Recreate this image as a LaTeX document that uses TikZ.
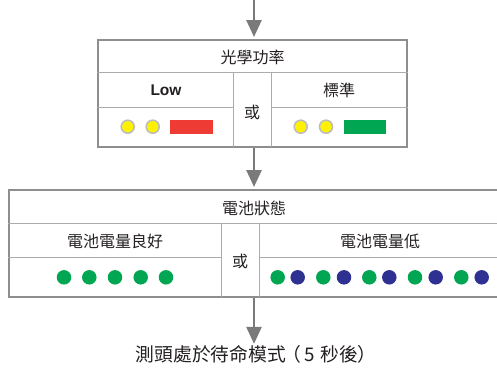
\documentclass[tikz,border=0pt]{standalone}
\usepackage{fontspec}
\setmainfont{Noto Sans CJK TC}
\newfontfamily\latinbold{Liberation Sans}
\usetikzlibrary{arrows.meta}
\definecolor{outerln}{HTML}{8E8E8E}
\definecolor{innerln}{HTML}{ABABAB}
\definecolor{arrowgray}{HTML}{7A7A7A}
\definecolor{ledyellow}{HTML}{FFF200}
\definecolor{ledring}{HTML}{BDBDBD}
\definecolor{ledred}{HTML}{EE3B33}
\definecolor{ledgreen}{HTML}{00A651}
\definecolor{ledblue}{HTML}{2E3192}
\definecolor{txt}{HTML}{231F20}
\tikzset{
  outerbox/.style={draw=outerln, line width=2pt, inner sep=0pt},
  innerline/.style={draw=innerln, line width=1pt},
  flowarrow/.style={draw=arrowgray, line width=2.6pt, -{Triangle[length=17pt,width=15pt]}, shorten >=2pt},
  celltext/.style={font=\fontsize{16}{18}\selectfont, text=txt, inner sep=0pt},
  lowtext/.style={font=\latinbold\bfseries\fontsize{15.5}{17}\selectfont, text=txt, inner sep=0pt},
  yled/.style={circle, fill=ledyellow, draw=ledring, line width=1.6pt, minimum size=13pt, inner sep=0pt},
  gled/.style={circle, fill=ledgreen, minimum size=14.5pt, inner sep=0pt},
  bled/.style={circle, fill=ledblue, minimum size=14.5pt, inner sep=0pt},
  redbar/.style={fill=ledred, minimum width=42.5pt, minimum height=14.5pt, inner sep=0pt},
  greenbar/.style={fill=ledgreen, minimum width=42pt, minimum height=14.5pt, inner sep=0pt},
}
\begin{document}
\begin{tikzpicture}[x=1pt,y=-1pt]
\useasboundingbox (0,0) rectangle (497,367);
\clip (0,0) rectangle (497,367);
% ---- top box
\node[outerbox, minimum width=309pt, minimum height=106.7pt] (box1) at (252.2,93.35) {};
\draw[innerline] (box1.west |- 0,72.7) -- (box1.east |- 0,72.7);
\draw[innerline] (box1.west |- 0,107) -- (233.3,107);
\draw[innerline] (271,107) -- (box1.east |- 0,107);
\draw[innerline] (233.3,72.7) -- (233.3,146.7);
\draw[innerline] (271,72.7) -- (271,146.7);
\node[celltext] (t1) at (252.7,57) {光學功率};
\node[lowtext] (low) at (166,90) {Low};
\node[celltext] (std) at (339,90.5) {標準};
\node[celltext] (or1) at (252.2,112) {或};
\node[yled] (y1) at (127.7,126.7) {};
\node[yled] (y2) at (152.7,126.7) {};
\node[redbar] (rb) at (191.3,127.2) {};
\node[yled] (y3) at (300.7,126.7) {};
\node[yled] (y4) at (326,126.7) {};
\node[greenbar] (gb) at (365,127.2) {};
% ---- second box
\node[outerbox, minimum width=501pt, minimum height=107pt] (box2) at (259.5,243.5) {};
\draw[innerline] (box2.west |- 0,223) -- (box2.east |- 0,223);
\draw[innerline] (box2.west |- 0,257.7) -- (221,257.7);
\draw[innerline] (259,257.7) -- (box2.east |- 0,257.7);
\draw[innerline] (221,223) -- (221,297);
\draw[innerline] (259,223) -- (259,297);
\node[celltext] (t2) at (254,208) {電池狀態};
\node[celltext] (good) at (115,241.7) {電池電量良好};
\node[celltext] (lowb) at (380,241.7) {電池電量低};
\node[celltext] (or2) at (240,261.5) {或};
\foreach \x [count=\i] in {64,89.3,115,140.7,166} \node[gled] (g\i) at (\x,277.3) {};
\foreach \x [count=\i] in {277.7,323.3,369.3,415,461.3} \node[gled] (rg\i) at (\x,277.3) {};
\foreach \x [count=\i] in {297.7,344,389.3,435.7,481.7} \node[bled] (rb\i) at (\x,277.3) {};
% ---- bottom text
\node[font=\fontsize{18.8}{21}\selectfont, text=txt, inner sep=0pt] (standby) at (256.2,354) {測頭處於待命模式\hspace{-4pt}（\hspace{4pt}5\hspace{5pt}秒後）};
% ---- arrows
\coordinate (start) at (254,0);
\coordinate (axis) at (254,0);
\draw[flowarrow] (start) -- (axis |- box1.north);
\draw[flowarrow] (axis |- box1.south) -- (axis |- box2.north);
\draw[flowarrow, shorten >=1pt] (axis |- box2.south) -- (axis |- standby.north);
\end{tikzpicture}
\end{document}
